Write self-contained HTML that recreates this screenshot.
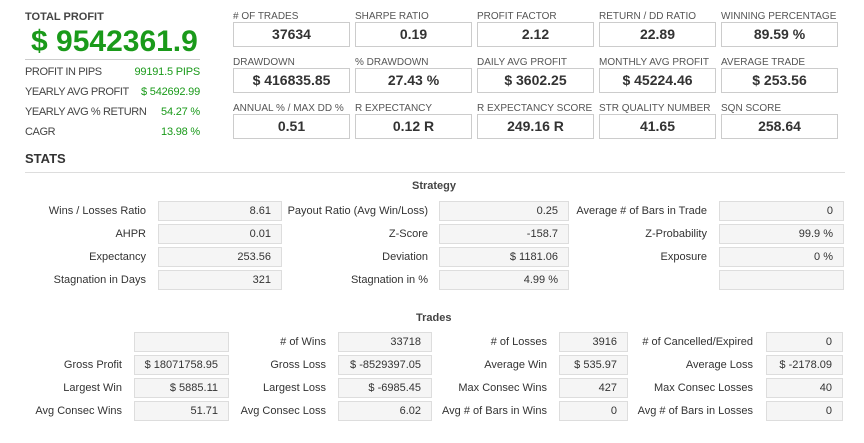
<!DOCTYPE html>
<html><head><meta charset="utf-8"><style>
body{margin:0;width:864px;height:443px;background:#fff;font-family:"Liberation Sans",Arial,sans-serif;color:#333;position:relative;overflow:hidden}
.a{position:absolute;white-space:nowrap}
.ml{font-size:10px;color:#555}
.mb{position:absolute;border:1px solid #ccc;width:115px;height:23px;line-height:23px;text-align:center;font-weight:bold;font-size:14px;color:#333;background:#fff}
.lr{font-size:11px;color:#444;letter-spacing:-0.4px}
.g{color:#1a9a1a;font-size:11px;text-align:right;letter-spacing:-0.2px}
.lab{position:absolute;font-size:11px;color:#333;text-align:right;white-space:nowrap;line-height:20px}
.bx{position:absolute;background:#f5f5f5;border:1px solid #ddd;height:18px;line-height:18px;font-size:11px;text-align:right;padding-right:10px;box-sizing:content-box;color:#333}
</style></head><body>
<div class="a" style="left:25px;top:11px;font-size:11px;font-weight:bold;color:#444">TOTAL PROFIT</div>
<div class="a" style="left:31px;top:25px;font-size:30px;font-weight:bold;color:#1a9a1a;line-height:34px">$ 9542361.9</div>
<div class="a" style="left:25px;top:59px;width:175px;height:1px;background:#ccc"></div>
<div class="a lr" style="left:25px;top:66px">PROFIT IN PIPS</div><div class="a g" style="right:664px;top:66px">99191.5 PIPS</div>
<div class="a lr" style="left:25px;top:86px">YEARLY AVG PROFIT</div><div class="a g" style="right:664px;top:86px">$ 542692.99</div>
<div class="a lr" style="left:25px;top:106px">YEARLY AVG % RETURN</div><div class="a g" style="right:664px;top:106px">54.27 %</div>
<div class="a lr" style="left:25px;top:126px">CAGR</div><div class="a g" style="right:664px;top:126px">13.98 %</div>

<div class="a ml" style="left:233px;top:11px">#  OF TRADES</div><div class="mb" style="left:233px;top:22px">37634</div>
<div class="a ml" style="left:355px;top:11px">SHARPE RATIO</div><div class="mb" style="left:355px;top:22px">0.19</div>
<div class="a ml" style="left:477px;top:11px">PROFIT FACTOR</div><div class="mb" style="left:477px;top:22px">2.12</div>
<div class="a ml" style="left:599px;top:11px">RETURN / DD RATIO</div><div class="mb" style="left:599px;top:22px">22.89</div>
<div class="a ml" style="left:721px;top:11px">WINNING PERCENTAGE</div><div class="mb" style="left:721px;top:22px">89.59 %</div>

<div class="a ml" style="left:233px;top:57px">DRAWDOWN</div><div class="mb" style="left:233px;top:68px">$ 416835.85</div>
<div class="a ml" style="left:355px;top:57px">% DRAWDOWN</div><div class="mb" style="left:355px;top:68px">27.43 %</div>
<div class="a ml" style="left:477px;top:57px">DAILY AVG PROFIT</div><div class="mb" style="left:477px;top:68px">$ 3602.25</div>
<div class="a ml" style="left:599px;top:57px">MONTHLY AVG PROFIT</div><div class="mb" style="left:599px;top:68px">$ 45224.46</div>
<div class="a ml" style="left:721px;top:57px">AVERAGE TRADE</div><div class="mb" style="left:721px;top:68px">$ 253.56</div>

<div class="a ml" style="left:233px;top:103px">ANNUAL % / MAX DD %</div><div class="mb" style="left:233px;top:114px">0.51</div>
<div class="a ml" style="left:355px;top:103px">R EXPECTANCY</div><div class="mb" style="left:355px;top:114px">0.12 R</div>
<div class="a ml" style="left:477px;top:103px">R EXPECTANCY SCORE</div><div class="mb" style="left:477px;top:114px">249.16 R</div>
<div class="a ml" style="left:599px;top:103px">STR QUALITY NUMBER</div><div class="mb" style="left:599px;top:114px">41.65</div>
<div class="a ml" style="left:721px;top:103px">SQN SCORE</div><div class="mb" style="left:721px;top:114px">258.64</div>

<div class="a" style="left:25px;top:151px;font-size:13px;font-weight:bold;color:#333">STATS</div>
<div class="a" style="left:25px;top:172px;width:820px;height:1px;background:#ddd"></div>

<div class="a" style="left:412px;top:180px;font-size:11px;font-weight:bold;color:#444">Strategy</div>
<div class="lab" style="right:718px;top:201px">Wins / Losses Ratio</div><div class="bx" style="left:158px;top:201px;width:112px">8.61</div>
<div class="lab" style="right:436px;top:201px">Payout Ratio (Avg Win/Loss)</div><div class="bx" style="left:439px;top:201px;width:118px">0.25</div>
<div class="lab" style="right:157px;top:201px">Average # of Bars in Trade</div><div class="bx" style="left:719px;top:201px;width:113px">0</div>
<div class="lab" style="right:718px;top:224px">AHPR</div><div class="bx" style="left:158px;top:224px;width:112px">0.01</div>
<div class="lab" style="right:436px;top:224px">Z-Score</div><div class="bx" style="left:439px;top:224px;width:118px">-158.7</div>
<div class="lab" style="right:157px;top:224px">Z-Probability</div><div class="bx" style="left:719px;top:224px;width:113px">99.9 %</div>
<div class="lab" style="right:718px;top:247px">Expectancy</div><div class="bx" style="left:158px;top:247px;width:112px">253.56</div>
<div class="lab" style="right:436px;top:247px">Deviation</div><div class="bx" style="left:439px;top:247px;width:118px">$ 1181.06</div>
<div class="lab" style="right:157px;top:247px">Exposure</div><div class="bx" style="left:719px;top:247px;width:113px">0 %</div>
<div class="lab" style="right:718px;top:270px">Stagnation in Days</div><div class="bx" style="left:158px;top:270px;width:112px">321</div>
<div class="lab" style="right:436px;top:270px">Stagnation in %</div><div class="bx" style="left:439px;top:270px;width:118px">4.99 %</div>
<div class="bx" style="left:719px;top:270px;width:113px"></div>

<div class="a" style="left:416px;top:312px;font-size:11px;font-weight:bold;color:#444">Trades</div>
<div class="bx" style="left:134px;top:332px;width:83px"></div>
<div class="lab" style="right:538px;top:332px"># of Wins</div><div class="bx" style="left:338px;top:332px;width:82px">33718</div>
<div class="lab" style="right:317px;top:332px"># of Losses</div><div class="bx" style="left:559px;top:332px;width:57px">3916</div>
<div class="lab" style="right:111px;top:332px"># of Cancelled/Expired</div><div class="bx" style="left:766px;top:332px;width:65px">0</div>
<div class="lab" style="right:742px;top:355px">Gross Profit</div><div class="bx" style="left:134px;top:355px;width:83px">$ 18071758.95</div>
<div class="lab" style="right:538px;top:355px">Gross Loss</div><div class="bx" style="left:338px;top:355px;width:82px">$ -8529397.05</div>
<div class="lab" style="right:317px;top:355px">Average Win</div><div class="bx" style="left:559px;top:355px;width:57px">$ 535.97</div>
<div class="lab" style="right:111px;top:355px">Average Loss</div><div class="bx" style="left:766px;top:355px;width:65px">$ -2178.09</div>
<div class="lab" style="right:742px;top:378px">Largest Win</div><div class="bx" style="left:134px;top:378px;width:83px">$ 5885.11</div>
<div class="lab" style="right:538px;top:378px">Largest Loss</div><div class="bx" style="left:338px;top:378px;width:82px">$ -6985.45</div>
<div class="lab" style="right:317px;top:378px">Max Consec Wins</div><div class="bx" style="left:559px;top:378px;width:57px">427</div>
<div class="lab" style="right:111px;top:378px">Max Consec Losses</div><div class="bx" style="left:766px;top:378px;width:65px">40</div>
<div class="lab" style="right:742px;top:401px">Avg Consec Wins</div><div class="bx" style="left:134px;top:401px;width:83px">51.71</div>
<div class="lab" style="right:538px;top:401px">Avg Consec Loss</div><div class="bx" style="left:338px;top:401px;width:82px">6.02</div>
<div class="lab" style="right:317px;top:401px">Avg # of Bars in Wins</div><div class="bx" style="left:559px;top:401px;width:57px">0</div>
<div class="lab" style="right:111px;top:401px">Avg # of Bars in Losses</div><div class="bx" style="left:766px;top:401px;width:65px">0</div>
</body></html>
